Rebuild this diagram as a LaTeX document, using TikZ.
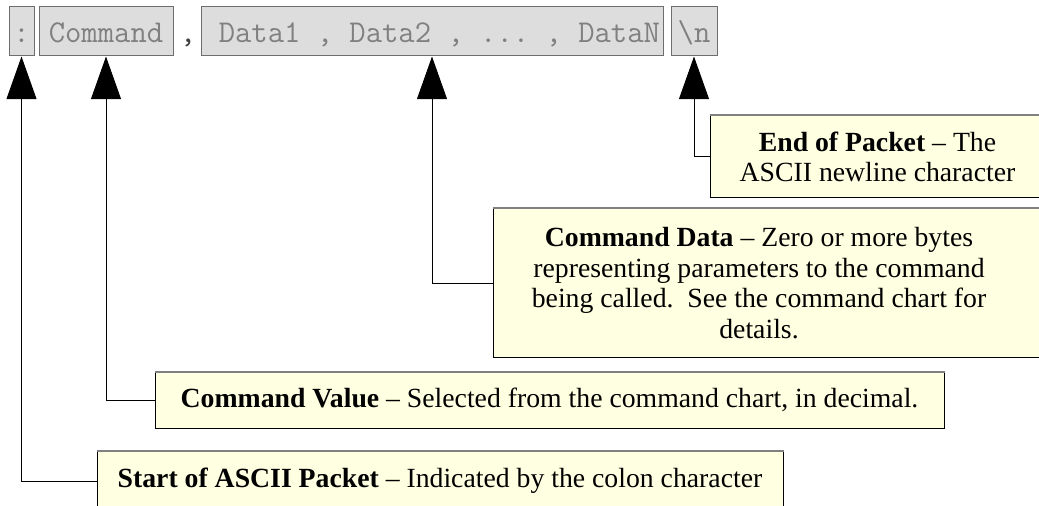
\documentclass[tikz,border=0pt]{standalone}
\usepackage{fontspec}
\setmainfont{Liberation Serif}
\usetikzlibrary{arrows.meta}

\definecolor{cellfill}{RGB}{221,221,221}
\definecolor{celledge}{RGB}{110,110,110}
\definecolor{celltext}{RGB}{128,128,128}
\definecolor{notefill}{RGB}{255,255,226}

\newcommand{\blank}{\hphantom{x}}

\begin{document}
\begin{tikzpicture}[x=0.75pt, y=-0.75pt,
	cell/.style={draw=celledge, fill=cellfill, text=celltext, line width=0.75pt,
		minimum height=36.75pt, inner sep=2.25pt, text height=17pt, text depth=1.2pt,
		font=\fontsize{23.8}{26}\ttfamily},
	note/.style={draw=black, fill=notefill, line width=0.75pt, align=center,
		inner sep=0pt, font=\fontsize{20.8}{23}\selectfont},
	topedge/.style={draw=gray, line width=1.5pt},
	pointer/.style={line width=0.75pt, -{Triangle[width=22.5pt, length=32pt]}}]

	\useasboundingbox (0,0) rectangle (1039,506);
	\clip (0,0) rectangle (1039,506);

	\node[cell, minimum width=18.75pt] (colon) at (21.5,31.5) {:};
	\node[cell, minimum width=100.5pt] (cmd) at (106,31.5) {Command};
	\node[cell, draw=none, fill=none, text=darkgray] (comma) at (188,31.5) {,};
	\node[cell, text width=342pt, align=right] (data) at (432,31.5)
		{Data1\blank,\blank Data2\blank,\blank...\blank,\blank DataN};
	\node[cell, minimum width=34.5pt] (newline) at (694,31.5) {\textbackslash n};

	\node[note, minimum width=251.25pt, minimum height=61.5pt] (endbox) at (877.5,157)
		{\textbf{End of Packet} -- The\\ASCII newline character};

	\node[note, minimum width=414pt, minimum height=111pt,
		label={[name=cdatatext, note, draw=none, fill=none, xshift=-7.5pt]center:{\textbf{Command Data} -- Zero or more bytes\\representing parameters to the command\\being called.\ \ See the command chart for\\details.}}]
		(cdata) at (769,283) {};

	\node[note, minimum width=591.75pt, minimum height=42pt] (cvalue) at (549.5,400)
		{\textbf{Command Value} -- Selected from the command chart, in decimal.};

	\node[note, minimum width=514.5pt, minimum height=45pt] (startbox) at (440,481)
		{\textbf{Start of ASCII Packet} -- Indicated by the colon character};

	\foreach \b in {endbox,cdata,cvalue,startbox}
		\draw[topedge] (\b.north west) -- (\b.north east);

	\draw[pointer] (endbox.west) -| (newline.south);
	\draw[pointer] (cdata.west) -| (data.south);
	\draw[pointer] (cvalue.west) -| (cmd.south);
	\draw[pointer] (startbox.west) -| (colon.south);
\end{tikzpicture}
\end{document}
